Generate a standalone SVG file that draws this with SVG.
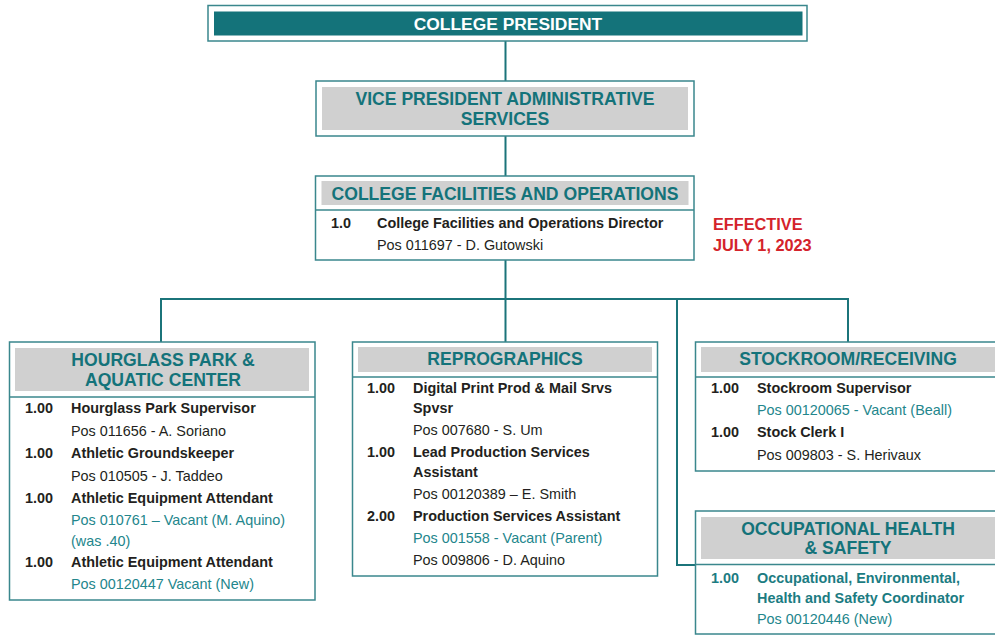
<svg xmlns="http://www.w3.org/2000/svg" width="995" height="635" viewBox="0 0 995 635">
<style>
.box{fill:#ffffff;stroke:#3a878d;stroke-width:1.5}
.hdr{fill:#d0d0d0}
.top{fill:#14737a}
.div{stroke:#3a878d;stroke-width:1.5}
.conn{fill:none;stroke:#1b747a;stroke-width:2}
text{font-family:"Liberation Sans",Arial,sans-serif}
.ht{font-size:17.6px;font-weight:bold;fill:#14737a;text-anchor:middle}
.wt{font-size:17.4px;font-weight:bold;fill:#ffffff;text-anchor:middle}
.n{font-size:14.4px;font-weight:bold;fill:#231f20}
.t{font-size:14.4px;font-weight:bold;fill:#231f20}
.p{font-size:14.4px;fill:#231f20}
.v{font-size:14.4px;fill:#23868c}
.tv{font-size:14.4px;font-weight:bold;fill:#1c7c82}
.red{font-size:16.3px;font-weight:bold;fill:#d4232b}
</style>
<rect width="995" height="635" fill="#ffffff"/>
<g id="connectors">
<path class="conn" d="M505.5 41V81M505.5 136V176M505.5 260V299M161 299H848M161 298V342M505.5 299V342M848 298V342M677 299V565H695"/>
</g>
<g id="president">
<rect class="box" x="208" y="5.5" width="599" height="35.5"/>
<rect class="top" x="214" y="11.5" width="588.5" height="24"/>
<text class="wt" x="508" y="29.5">COLLEGE PRESIDENT</text>
</g>
<g id="vp">
<rect class="box" x="316" y="81" width="378" height="55"/>
<rect class="hdr" x="322" y="87" width="366" height="43"/>
<text class="ht" x="505" y="105">VICE PRESIDENT ADMINISTRATIVE</text>
<text class="ht" x="505" y="125">SERVICES</text>
</g>
<g id="facilities">
<rect class="box" x="315.5" y="176" width="378.5" height="84"/>
<rect class="hdr" x="321.5" y="181" width="367" height="24"/>
<line class="div" x1="315.5" y1="210" x2="694" y2="210"/>
<text class="ht" x="505" y="200">COLLEGE FACILITIES AND OPERATIONS</text>
<text class="n" x="331" y="228">1.0</text>
<text class="t" x="377" y="228">College Facilities and Operations Director</text>
<text class="p" x="377" y="250">Pos 011697 - D. Gutowski</text>
</g>
<g id="effective">
<text class="red" x="713" y="230">EFFECTIVE</text>
<text class="red" x="713" y="251">JULY 1, 2023</text>
</g>
<g id="hourglass">
<rect class="box" x="9.5" y="342" width="305.5" height="258"/>
<rect class="hdr" x="15" y="348" width="294" height="43"/>
<line class="div" x1="9.5" y1="397" x2="315" y2="397"/>
<text class="ht" x="163" y="366">HOURGLASS PARK &amp;</text>
<text class="ht" x="163" y="386">AQUATIC CENTER</text>
<text class="n" x="25" y="413">1.00</text>
<text class="t" x="71" y="413">Hourglass Park Supervisor</text>
<text class="p" x="71" y="436">Pos 011656 - A. Soriano</text>
<text class="n" x="25" y="458">1.00</text>
<text class="t" x="71" y="458">Athletic Groundskeeper</text>
<text class="p" x="71" y="481">Pos 010505 - J. Taddeo</text>
<text class="n" x="25" y="503">1.00</text>
<text class="t" x="71" y="503">Athletic Equipment Attendant</text>
<text class="v" x="71" y="525">Pos 010761 – Vacant (M. Aquino)</text>
<text class="v" x="71" y="546">(was .40)</text>
<text class="n" x="25" y="567">1.00</text>
<text class="t" x="71" y="567">Athletic Equipment Attendant</text>
<text class="v" x="71" y="589">Pos 00120447 Vacant (New)</text>
</g>
<g id="reprographics">
<rect class="box" x="352.5" y="342" width="305" height="234"/>
<rect class="hdr" x="358" y="347" width="294" height="25"/>
<line class="div" x1="352.5" y1="377" x2="657.5" y2="377"/>
<text class="ht" x="505" y="365">REPROGRAPHICS</text>
<text class="n" x="367" y="393">1.00</text>
<text class="t" x="413" y="393">Digital Print Prod &amp; Mail Srvs</text>
<text class="t" x="413" y="413">Spvsr</text>
<text class="p" x="413" y="435">Pos 007680 - S. Um</text>
<text class="n" x="367" y="457">1.00</text>
<text class="t" x="413" y="457">Lead Production Services</text>
<text class="t" x="413" y="477">Assistant</text>
<text class="p" x="413" y="499">Pos 00120389 – E. Smith</text>
<text class="n" x="367" y="521">2.00</text>
<text class="t" x="413" y="521">Production Services Assistant</text>
<text class="v" x="413" y="543">Pos 001558 - Vacant (Parent)</text>
<text class="p" x="413" y="565">Pos 009806 - D. Aquino</text>
</g>
<g id="stockroom">
<rect class="box" x="695.5" y="342" width="306" height="129"/>
<rect class="hdr" x="701" y="347" width="300" height="25"/>
<line class="div" x1="695.5" y1="377" x2="1001" y2="377"/>
<text class="ht" x="848" y="365">STOCKROOM/RECEIVING</text>
<text class="n" x="711" y="393">1.00</text>
<text class="t" x="757" y="393">Stockroom Supervisor</text>
<text class="v" x="757" y="415">Pos 00120065 - Vacant (Beall)</text>
<text class="n" x="711" y="437">1.00</text>
<text class="t" x="757" y="437">Stock Clerk I</text>
<text class="p" x="757" y="460">Pos 009803 - S. Herivaux</text>
</g>
<g id="ohs">
<rect class="box" x="695.5" y="511" width="306" height="123"/>
<rect class="hdr" x="701" y="517" width="300" height="42"/>
<line class="div" x1="695.5" y1="564.5" x2="1001" y2="564.5"/>
<text class="ht" x="848" y="535">OCCUPATIONAL HEALTH</text>
<text class="ht" x="848" y="554">&amp; SAFETY</text>
<text class="tv" x="711" y="583">1.00</text>
<text class="tv" x="757" y="583">Occupational, Environmental,</text>
<text class="tv" x="757" y="603">Health and Safety Coordinator</text>
<text class="v" x="757" y="624">Pos 00120446 (New)</text>
</g>
</svg>
